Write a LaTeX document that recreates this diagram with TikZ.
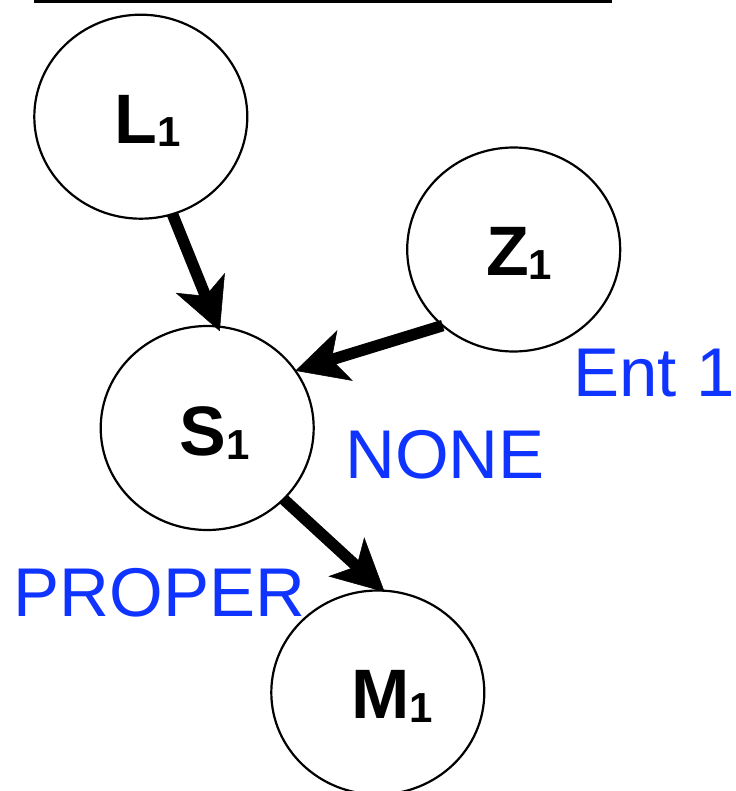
\documentclass[tikz,border=0pt]{standalone}
\usepackage{fontspec}
\setmainfont{Liberation Sans}
\usetikzlibrary{shapes.geometric,arrows.meta}
\definecolor{lblblue}{RGB}{16,52,255}
\tikzset{
  state/.style={ellipse, draw=black, line width=2.2pt, minimum width=213pt, minimum height=204pt, inner sep=0pt, outer sep=0pt},
  var/.style={anchor=base, inner sep=0pt, font=\bfseries\fontsize{70}{80}\selectfont},
  tag/.style={anchor=base, inner sep=0pt, text=lblblue, font=\fontsize{69}{80}\selectfont},
  link/.style={line width=11.5pt, -{Stealth[length=52pt, width=53pt, inset=14pt, line width=0.5pt]}}
}
\newcommand{\subone}{\raisebox{-3.5pt}{\fontsize{42}{48}\selectfont 1}}
\begin{document}
\begin{tikzpicture}[x=1pt, y=-1pt]
\useasboundingbox (0,0) rectangle (735,791);
\fill[black] (33.5,-2) rectangle (612,3.4);
\node[state] (L1) at (140.8,116.7) {};
\node[state] (Z1) at (513.7,249.5) {};
\node[state] (S1) at (207.2,428) {};
\node[state] (M1) at (377.8,692.5) {};
\node[var] (tL) at (147.7,143.3) {L\subone};
\node[var] (tZ) at (519.2,276) {Z\subone};
\node[var] (tS) at (214.7,455.5) {S\subone};
\node[var] (tM) at (392.2,718.7) {M\subone};
\node[tag] (ent) at (654,396.7) {Ent 1};
\node[tag] (none) at (445,478) {NONE};
\node[tag] (proper) at (159.2,616) {PROPER};
\draw[link, shorten >=-5pt] (L1.-72) -- (S1.84);
\draw[link] (Z1.-133) -- (S1.33.2);
\draw[link, shorten >=-2pt] (S1.-43.4) -- (M1.87.2);
\end{tikzpicture}
\end{document}
